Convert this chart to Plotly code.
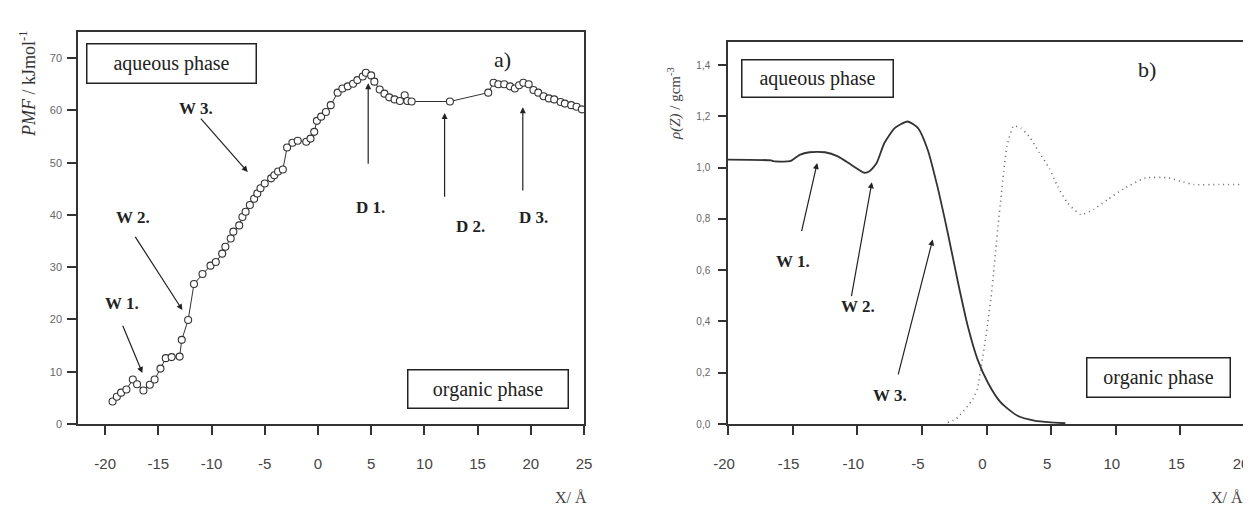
import plotly.graph_objects as go

# ---- Panel a) PMF data ----
pmf_x = [-19.3, -18.9, -18.5, -18.0, -17.4, -17.0, -16.4, -15.8, -15.35, -14.8, -14.3, -13.75, -13.0, -12.8,
         -12.2, -11.65, -10.85, -10.1, -9.6, -9.0, -8.7, -8.2, -7.95, -7.4, -7.1, -6.8, -6.4, -6.0, -5.7, -5.4,
         -5.0, -4.4, -4.1, -3.75, -3.3, -2.9, -2.4, -1.9, -1.1, -0.7, -0.35, -0.1, 0.3, 0.75, 1.2, 1.85, 2.3,
         2.8, 3.3, 3.7, 4.2, 4.5, 5.0, 5.3, 5.8, 6.25, 6.7, 7.2, 7.7, 8.15, 8.4, 8.8, 12.4, 16.0, 16.5, 16.95,
         17.5, 18.05, 18.5, 18.9, 19.3, 19.8, 20.25, 20.7, 21.2, 21.7, 22.2, 22.8, 23.2, 23.8, 24.3, 24.8]
pmf_y = [4.3, 5.2, 6.0, 6.6, 8.5, 7.6, 6.4, 7.5, 8.5, 10.6, 12.6, 12.8, 12.9, 16.1, 19.9, 26.8,
         28.7, 30.3, 31.0, 32.6, 33.9, 35.5, 36.8, 38.0, 39.6, 40.6, 41.9, 43.1, 44.1, 45.1, 46.0,
         47.0, 47.6, 48.3, 48.7, 52.9, 53.8, 54.2, 54.0, 54.6, 55.9, 58.0,
         58.8, 59.7, 61.0, 63.4, 64.2, 64.6, 65.1, 65.8, 66.5, 67.2,
         66.7, 65.5, 64.0, 63.2, 62.5, 62.1, 61.8, 62.9, 61.8, 61.7, 61.7,
         63.4, 65.3, 65.0, 65.0, 64.6, 64.2, 64.8, 65.3, 65.0, 63.9,
         63.4, 62.7, 62.3, 62.1, 61.6, 61.3, 61.0, 60.7, 60.2]

# ---- Panel b) density data ----
water_x = [-20, -16.65, -16.5, -15.2, -14.45, -13.7, -12.5, -11.5, -10.5, -9.45, -9.05, -8.5, -7.9, -7.1,
           -6.1, -5.3, -4.55, -3.8, -3.0, -2.2, -1.45, -0.7, 0.1, 1.1, 2.4, 3.7, 5.0, 6.1]
water_y = [1.031, 1.028, 1.025, 1.025, 1.05, 1.06, 1.06, 1.044, 1.012, 0.98, 0.986, 1.018, 1.096, 1.154,
           1.18, 1.154, 1.07, 0.927, 0.746, 0.551, 0.382, 0.253, 0.162, 0.084, 0.032, 0.013, 0.006, 0.003]
org_x = [-3.0, -2.35, -1.05, -0.7, -0.47, -0.2, 0.1, 0.35, 0.55, 0.73, 0.92, 1.12, 1.33, 1.58, 2.1, 2.67,
         3.3, 4.1, 4.85, 5.5, 6.27, 7.3, 8.3, 9.35, 10.6, 12.3, 14.1, 15.0, 16.05, 18.0, 19.65]
org_y = [0.006, 0.02, 0.097, 0.136, 0.207, 0.29, 0.396, 0.493, 0.59, 0.687, 0.785, 0.882, 0.985, 1.083,
         1.163, 1.154, 1.122, 1.057, 0.998, 0.927, 0.862, 0.817, 0.837, 0.875, 0.917, 0.96, 0.96, 0.947,
         0.934, 0.934, 0.934]

left_xticks = [-20, -15, -10, -5, 0, 5, 10, 15, 20, 25]
left_xticklabels = ["-20", "-15", "-10", "-5", "0", "5", "10", "15", "20", "25"]
left_yticks = [0, 10, 20, 30, 40, 50, 60, 70]
right_xticks = [-20, -15, -10, -5, 0, 5, 10, 15, 20]
right_xticklabels = ["-20", "-15", "-10", "-5", "0", "5", "10", "15", "20"]
right_yticks = [0.0, 0.2, 0.4, 0.6, 0.8, 1.0, 1.2, 1.4]
right_yticklabels = ["0,0", "0,2", "0,4", "0,6", "0,8", "1,0", "1,2", "1,4"]

# The page body has an 8 px margin; the figure is sized to fit the window after it.
OFF = 8
W, H = 1251 - OFF, 508 - OFF
def px(x):
    return (x - OFF) / W
def py(y):
    return 1 - (y - OFF) / H

INK = "#222222"
AX = "#333333"
TICKC = "#444444"
SERIF = "Liberation Serif"
SANS = "Liberation Sans"

fig = go.Figure()
fig.add_trace(go.Scatter(x=pmf_x, y=pmf_y, mode="lines+markers", xaxis="x", yaxis="y",
                         line=dict(color=AX, width=1),
                         marker=dict(symbol="circle", size=7, color="white",
                                     line=dict(color=AX, width=1.1)),
                         showlegend=False))
fig.add_trace(go.Scatter(x=water_x, y=water_y, mode="lines", xaxis="x2", yaxis="y2",
                         line=dict(color=AX, width=1.8, shape="spline", smoothing=0.6),
                         showlegend=False))
fig.add_trace(go.Scatter(x=org_x, y=org_y, mode="lines", xaxis="x2", yaxis="y2",
                         line=dict(color="#666666", width=1.6, dash="1px,4px", shape="spline", smoothing=0.5),
                         showlegend=False))

ydom = [py(424), py(32)]
ydom2 = [py(424), py(42)]
common_axis = dict(showline=True, linecolor=AX, linewidth=1.5, mirror=True, ticks="outside",
                   tickcolor=AX, tickwidth=1.5, showgrid=False, zeroline=False, automargin=False)

fig.update_layout(
    width=W, height=H, margin=dict(l=0, r=0, t=0, b=0, pad=0, autoexpand=False),
    paper_bgcolor="white", plot_bgcolor="white",
    xaxis=dict(domain=[px(78), px(584)], range=[-22.55, 25], tickvals=left_xticks, ticktext=left_xticklabels,
               ticklen=9, tickfont=dict(family=SANS, size=15, color=TICKC), ticklabelstandoff=16,
               ticklabeloverflow="allow", anchor="y", **common_axis),
    yaxis=dict(domain=ydom, range=[0, 75], tickvals=left_yticks, ticklen=9,
               tickfont=dict(family=SANS, size=11, color="#666666"), ticklabelstandoff=3,
               anchor="x", **common_axis),
    xaxis2=dict(domain=[px(728), px(1245)], range=[-20, 20], tickvals=right_xticks, ticktext=right_xticklabels,
                ticklen=9, tickfont=dict(family=SANS, size=15, color=TICKC), ticklabelstandoff=16,
                ticklabelshift=-4, ticklabeloverflow="allow", anchor="y2", **common_axis),
    yaxis2=dict(domain=ydom2, range=[0, 1.49], tickvals=right_yticks, ticktext=right_yticklabels, ticklen=8,
                tickfont=dict(family=SANS, size=10, color="#666666"), ticklabelstandoff=6,
                anchor="x2", **common_axis),
)

anns = []
# Boxed phase labels
def box(text, cx, cy, w, h):
    anns.append(dict(text=text, xref="paper", yref="paper", x=px(cx), y=py(cy),
                     xanchor="center", yanchor="middle", showarrow=False,
                     width=w - 7, height=h - 7, borderpad=2, bordercolor=INK, borderwidth=1.5,
                     font=dict(family=SERIF, size=20, color=INK)))
box("aqueous phase", 171.5, 63.5, 171, 41)
box("organic phase", 488, 389, 162, 40)
box("aqueous phase", 817.5, 78.5, 153, 39)
box("organic phase", 1158.5, 377.5, 145, 41)

# Panel letters
anns.append(dict(text="a)", xref="x", yref="y", x=17.3, y=69.8, showarrow=False,
                 font=dict(family=SERIF, size=22, color=INK)))
anns.append(dict(text="b)", xref="x2", yref="y2", x=12.4, y=1.381, showarrow=False,
                 font=dict(family=SERIF, size=22, color=INK)))

# Axis titles
anns.append(dict(text="<i>PMF</i> / kJmol<sup>-1</sup>", xref="paper", yref="paper", x=px(27), y=py(84),
                 xanchor="center", yanchor="middle",
                 textangle=-90, showarrow=False, font=dict(family=SERIF, size=18, color="#333333")))
anns.append(dict(text="<i>ρ(Z)</i> / gcm<sup>-3</sup>", xref="paper", yref="paper", x=px(675), y=py(103),
                 xanchor="center", yanchor="middle",
                 textangle=-90, showarrow=False, font=dict(family=SERIF, size=15, color="#444444")))
anns.append(dict(text="X/ Å", xref="paper", yref="paper", x=px(571), y=py(497), showarrow=False,
                 xanchor="center", yanchor="middle",
                 font=dict(family=SERIF, size=16, color="#444444")))
anns.append(dict(text="X/ Å", xref="paper", yref="paper", x=px(1227), y=py(497), showarrow=False,
                 xanchor="center", yanchor="middle",
                 font=dict(family=SERIF, size=16, color="#444444")))

# Labels with arrows
def label(text, xa, ya, x, y):
    anns.append(dict(text="<b>%s</b>" % text, xref=xa, yref=ya, x=x, y=y, showarrow=False,
                     font=dict(family=SERIF, size=17, color=INK)))
def arrow(xa, ya, tx, ty, hx, hy):
    anns.append(dict(text="", xref=xa, yref=ya, axref=xa, ayref=ya, x=hx, y=hy, ax=tx, ay=ty,
                     showarrow=True, arrowhead=2, arrowsize=1, arrowwidth=1.2, arrowcolor=INK))

label("W 3.", "x", "y", -11.5, 60.4); arrow("x", "y", -11.13, 58.7, -6.6, 48.2)
label("W 2.", "x", "y", -17.36, 39.6); arrow("x", "y", -17.26, 36.1, -12.74, 21.8)
label("W 1.", "x", "y", -18.4, 23.1); arrow("x", "y", -18.4, 19.1, -16.5, 9.75)
label("D 1.", "x", "y", 4.9, 41.5); arrow("x", "y", 4.72, 49.5, 4.72, 65.2)
label("D 2.", "x", "y", 14.3, 37.7); arrow("x", "y", 11.9, 43.2, 11.9, 59.5)
label("D 3.", "x", "y", 20.3, 39.6); arrow("x", "y", 19.25, 44.4, 19.25, 60.6)

label("W 1.", "x2", "y2", -14.98, 0.635); arrow("x2", "y2", -14.33, 0.746, -13.1, 1.018)
label("W 2.", "x2", "y2", -9.95, 0.458); arrow("x2", "y2", -10.47, 0.493, -8.87, 0.943)
label("W 3.", "x2", "y2", -7.43, 0.113); arrow("x2", "y2", -6.86, 0.188, -4.16, 0.72)

fig.update_layout(annotations=anns)
fig.write_html("out.html")
